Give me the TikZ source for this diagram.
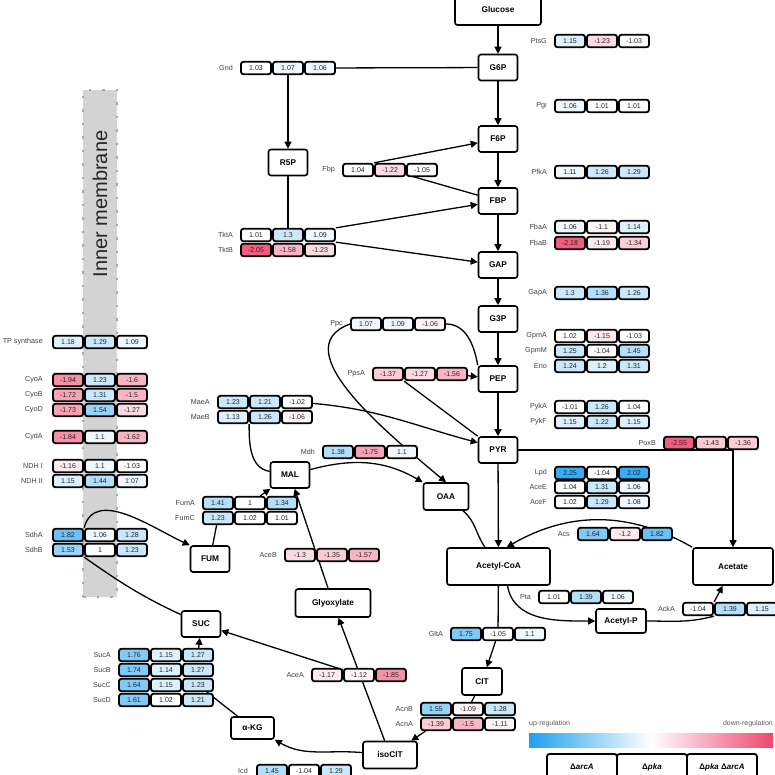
\documentclass[tikz,border=0pt]{standalone}
\usepackage[svgnames]{xcolor}
\usepackage{tikz}
\usepackage{fontspec}
\setmainfont{Liberation Sans}
\usetikzlibrary{arrows.meta}
\pgfdeclarelayer{backlayer}
\pgfdeclarelayer{edgelayer}
\pgfdeclarelayer{nodelayer}
\pgfsetlayers{backlayer,edgelayer,nodelayer,main}
\definecolor{UpBlue}{RGB}{30,160,240}
\definecolor{DownRed}{RGB}{240,70,110}
\tikzstyle{met}=[rectangle,rounded corners=2.5pt,fill=White,draw=Black,line width=1.6pt,minimum width=39pt,minimum height=26pt,inner sep=1pt,font=\fontsize{8.3}{9}\selectfont\bfseries]
\tikzstyle{enz}=[inner sep=0pt,anchor=east,text=black!75,font=\fontsize{7.2}{8}\selectfont]
\tikzstyle{n0}=[rectangle,rounded corners=2.5pt,fill=White,draw=Black,line width=1.8pt,minimum width=30pt,minimum height=12.5pt,inner sep=0pt,text=black!85,font=\fontsize{7}{8}\selectfont]
\tikzstyle{u1}=[n0,fill=UpBlue!7]
\tikzstyle{u2}=[n0,fill=UpBlue!15]
\tikzstyle{u3}=[n0,fill=UpBlue!24]
\tikzstyle{u4}=[n0,fill=UpBlue!34]
\tikzstyle{u5}=[n0,fill=UpBlue!46]
\tikzstyle{u6}=[n0,fill=UpBlue!56]
\tikzstyle{u7}=[n0,fill=UpBlue!66]
\tikzstyle{u8}=[n0,fill=UpBlue!88]
\tikzstyle{d1}=[n0,fill=DownRed!6]
\tikzstyle{d2}=[n0,fill=DownRed!12]
\tikzstyle{d3}=[n0,fill=DownRed!20]
\tikzstyle{d4}=[n0,fill=DownRed!28]
\tikzstyle{d5}=[n0,fill=DownRed!40]
\tikzstyle{d6}=[n0,fill=DownRed!50]
\tikzstyle{d7}=[n0,fill=DownRed!60]
\tikzstyle{d8}=[n0,fill=DownRed!88]
\tikzstyle{membrane}=[rectangle,fill=LightGray,draw=DarkGray,line width=2.5pt,dash pattern=on 2.5pt off 11pt,minimum width=34pt,minimum height=507pt,inner sep=0pt]
\tikzstyle{memtext}=[inner sep=0pt,rotate=90,text=black!85,font=\fontsize{20}{24}\selectfont]
\tikzstyle{legtext}=[inner sep=0pt,text=black!65,font=\fontsize{7}{8}\selectfont]
\tikzstyle{legbar}=[rectangle,left color=UpBlue,right color=DownRed,middle color=White,minimum width=244pt,minimum height=14pt,inner sep=0pt]
\tikzstyle{hdr}=[rectangle,rounded corners=2.5pt,fill=White,draw=Black,line width=1.8pt,minimum width=70pt,minimum height=26pt,inner sep=0pt,font=\fontsize{8}{9}\selectfont\bfseries]
\tikzstyle{link}=[-,draw=Black,line width=1.3pt]
\tikzstyle{flow}=[-{Triangle[length=7pt,width=7pt]},draw=Black,line width=1.3pt]

\begin{document}
\begin{tikzpicture}[x=1pt,y=-1pt]
	\useasboundingbox (0, 0) rectangle (775, 774);
	\begin{pgfonlayer}{backlayer}
		\node [style=membrane] (218) at (100, 343.5) {};
		\node [style=memtext] (219) at (100, 204) {Inner membrane};
	\end{pgfonlayer}
	\begin{pgfonlayer}{nodelayer}
		\node [style=met, minimum width=86pt, minimum height=30pt] (0) at (498, 10) {Glucose};
		\node [style=met] (1) at (498, 67.5) {G6P};
		\node [style=met] (2) at (498, 139) {F6P};
		\node [style=met] (3) at (288, 162.5) {R5P};
		\node [style=met] (4) at (498, 201) {FBP};
		\node [style=met] (5) at (498, 265) {GAP};
		\node [style=met] (6) at (498, 319) {G3P};
		\node [style=met] (7) at (498, 379) {PEP};
		\node [style=met] (8) at (498, 450) {PYR};
		\node [style=met] (9) at (290, 475) {MAL};
		\node [style=met, minimum width=45pt, minimum height=27pt] (10) at (446, 496.5) {OAA};
		\node [style=met] (11) at (210, 559) {FUM};
		\node [style=met, minimum width=103pt, minimum height=37pt] (12) at (498.5, 566.5) {Acetyl-CoA};
		\node [style=met, minimum width=80pt, minimum height=37pt] (13) at (733, 566.5) {Acetate};
		\node [style=met, minimum width=75pt, minimum height=28pt] (14) at (333, 603) {Glyoxylate};
		\node [style=met] (15) at (201, 624) {SUC};
		\node [style=met, minimum width=50pt, minimum height=24pt] (16) at (621, 621) {Acetyl-P};
		\node [style=met, minimum width=40pt, minimum height=27pt] (17) at (482, 681.5) {CIT};
		\node [style=met, minimum width=43pt, minimum height=22pt] (18) at (252.5, 728) {α-KG};
		\node [style=met, minimum width=54pt, minimum height=27pt] (19) at (390, 755) {isoCIT};
		\node [style=enz] (20) at (547, 41) {PtsG};
		\node [style=u2] (21) at (570, 41) {1.15};
		\node [style=d3] (22) at (602, 41) {-1.23};
		\node [style=n0] (23) at (634, 41) {-1.03};
		\node [style=enz] (24) at (233, 68) {Gnd};
		\node [style=n0] (25) at (256, 68) {1.03};
		\node [style=u1] (26) at (288, 68) {1.07};
		\node [style=u1] (27) at (320, 68) {1.06};
		\node [style=enz] (28) at (547, 106) {Pgi};
		\node [style=u1] (29) at (570, 106) {1.06};
		\node [style=n0] (30) at (602, 106) {1.01};
		\node [style=n0] (31) at (634, 106) {1.01};
		\node [style=enz] (32) at (335, 170) {Fbp};
		\node [style=n0] (33) at (358, 170) {1.04};
		\node [style=d3] (34) at (390, 170) {-1.22};
		\node [style=n0] (35) at (422, 170) {-1.05};
		\node [style=enz] (36) at (547, 172) {PfkA};
		\node [style=u1] (37) at (570, 172) {1.11};
		\node [style=u3] (38) at (602, 172) {1.26};
		\node [style=u3] (39) at (634, 172) {1.29};
		\node [style=enz] (40) at (547, 227) {FbaA};
		\node [style=u1] (41) at (570, 227) {1.06};
		\node [style=d1] (42) at (602, 227) {-1.1};
		\node [style=u2] (43) at (634, 227) {1.14};
		\node [style=enz] (44) at (547, 243) {FbaB};
		\node [style=d8] (45) at (570, 243) {-2.18};
		\node [style=d2] (46) at (602, 243) {-1.19};
		\node [style=d4] (47) at (634, 243) {-1.34};
		\node [style=enz] (48) at (233, 235) {TktA};
		\node [style=n0] (49) at (256, 235) {1.01};
		\node [style=u3] (50) at (288, 235) {1.3};
		\node [style=u1] (51) at (320, 235) {1.09};
		\node [style=enz] (52) at (233, 250) {TktB};
		\node [style=d8] (53) at (256, 250) {-2.05};
		\node [style=d5] (54) at (288, 250) {-1.58};
		\node [style=d3] (55) at (320, 250) {-1.23};
		\node [style=enz] (56) at (547, 293) {GapA};
		\node [style=u3] (57) at (570, 293) {1.3};
		\node [style=u4] (58) at (602, 293) {1.36};
		\node [style=u3] (59) at (634, 293) {1.26};
		\node [style=enz] (60) at (343, 324) {Ppc};
		\node [style=u1] (61) at (366, 324) {1.07};
		\node [style=u1] (62) at (398, 324) {1.09};
		\node [style=d1] (63) at (430, 324) {-1.06};
		\node [style=enz] (64) at (547, 336) {GpmA};
		\node [style=n0] (65) at (570, 336) {1.02};
		\node [style=d2] (66) at (602, 336) {-1.15};
		\node [style=n0] (67) at (634, 336) {-1.03};
		\node [style=enz] (68) at (547, 351) {GpmM};
		\node [style=u3] (69) at (570, 351) {1.25};
		\node [style=n0] (70) at (602, 351) {-1.04};
		\node [style=u4] (71) at (634, 351) {1.45};
		\node [style=enz] (72) at (547, 366) {Eno};
		\node [style=u3] (73) at (570, 366) {1.24};
		\node [style=u2] (74) at (602, 366) {1.2};
		\node [style=u3] (75) at (634, 366) {1.31};
		\node [style=enz] (76) at (43, 342) {TP synthase};
		\node [style=u2] (77) at (68, 342) {1.18};
		\node [style=u3] (78) at (100, 342) {1.29};
		\node [style=u1] (79) at (132, 342) {1.09};
		\node [style=enz] (80) at (365, 374) {PpsA};
		\node [style=d4] (81) at (388, 374) {-1.37};
		\node [style=d3] (82) at (420, 374) {-1.27};
		\node [style=d5] (83) at (452, 374) {-1.56};
		\node [style=enz] (84) at (43, 380) {CyoA};
		\node [style=d7] (85) at (68, 380) {-1.94};
		\node [style=u3] (86) at (100, 380) {1.23};
		\node [style=d5] (87) at (132, 380) {-1.6};
		\node [style=enz] (88) at (43, 395) {CyoB};
		\node [style=d6] (89) at (68, 395) {-1.72};
		\node [style=u3] (90) at (100, 395) {1.31};
		\node [style=d5] (91) at (132, 395) {-1.5};
		\node [style=enz] (92) at (43, 410) {CyoD};
		\node [style=d6] (93) at (68, 410) {-1.73};
		\node [style=u5] (94) at (100, 410) {1.54};
		\node [style=d3] (95) at (132, 410) {-1.27};
		\node [style=enz] (96) at (210, 402) {MaeA};
		\node [style=u3] (97) at (233, 402) {1.23};
		\node [style=u3] (98) at (265, 402) {1.21};
		\node [style=n0] (99) at (297, 402) {-1.02};
		\node [style=enz] (100) at (210, 417) {MaeB};
		\node [style=u2] (101) at (233, 417) {1.13};
		\node [style=u3] (102) at (265, 417) {1.26};
		\node [style=d1] (103) at (297, 417) {-1.06};
		\node [style=enz] (104) at (547, 407) {PykA};
		\node [style=n0] (105) at (570, 407) {-1.01};
		\node [style=u3] (106) at (602, 407) {1.26};
		\node [style=n0] (107) at (634, 407) {1.04};
		\node [style=enz] (108) at (547, 422) {PykF};
		\node [style=u2] (109) at (570, 422) {1.15};
		\node [style=u3] (110) at (602, 422) {1.22};
		\node [style=u2] (111) at (634, 422) {1.15};
		\node [style=enz] (112) at (43, 437) {CydA};
		\node [style=d7] (113) at (68, 437) {-1.84};
		\node [style=u1] (114) at (100, 437) {1.1};
		\node [style=d5] (115) at (132, 437) {-1.62};
		\node [style=enz] (116) at (656, 443) {PoxB};
		\node [style=d8] (117) at (679, 443) {-2.55};
		\node [style=d4] (118) at (711, 443) {-1.43};
		\node [style=d4] (119) at (743, 443) {-1.36};
		\node [style=enz] (120) at (315, 452) {Mdh};
		\node [style=u4] (121) at (338, 452) {1.38};
		\node [style=d6] (122) at (370, 452) {-1.75};
		\node [style=u1] (123) at (402, 452) {1.1};
		\node [style=enz] (124) at (43, 466) {NDH I};
		\node [style=d2] (125) at (68, 466) {-1.16};
		\node [style=u1] (126) at (100, 466) {1.1};
		\node [style=n0] (127) at (132, 466) {-1.03};
		\node [style=enz] (128) at (43, 481) {NDH II};
		\node [style=u2] (129) at (68, 481) {1.15};
		\node [style=u4] (130) at (100, 481) {1.44};
		\node [style=u1] (131) at (132, 481) {1.07};
		\node [style=enz] (132) at (547, 473) {Lpd};
		\node [style=u8] (133) at (570, 473) {2.25};
		\node [style=n0] (134) at (602, 473) {-1.04};
		\node [style=u8] (135) at (634, 473) {2.02};
		\node [style=enz] (136) at (547, 487) {AceE};
		\node [style=n0] (137) at (570, 487) {1.04};
		\node [style=u3] (138) at (602, 487) {1.31};
		\node [style=u1] (139) at (634, 487) {1.06};
		\node [style=enz] (140) at (547, 502) {AceF};
		\node [style=n0] (141) at (570, 502) {1.02};
		\node [style=u3] (142) at (602, 502) {1.29};
		\node [style=u1] (143) at (634, 502) {1.08};
		\node [style=enz] (144) at (195, 503) {FumA};
		\node [style=u4] (145) at (218, 503) {1.41};
		\node [style=n0] (146) at (250, 503) {1};
		\node [style=u4] (147) at (282, 503) {1.34};
		\node [style=enz] (148) at (195, 518) {FumC};
		\node [style=u3] (149) at (218, 518) {1.23};
		\node [style=n0] (150) at (250, 518) {1.02};
		\node [style=n0] (151) at (282, 518) {1.01};
		\node [style=enz] (152) at (570, 534) {Acs};
		\node [style=u6] (153) at (593, 534) {1.64};
		\node [style=d2] (154) at (625, 534) {-1.2};
		\node [style=u7] (155) at (657, 534) {1.82};
		\node [style=enz] (156) at (43, 535) {SdhA};
		\node [style=u7] (157) at (68, 535) {1.82};
		\node [style=u1] (158) at (100, 535) {1.06};
		\node [style=u3] (159) at (132, 535) {1.28};
		\node [style=enz] (160) at (43, 550) {SdhB};
		\node [style=u5] (161) at (68, 550) {1.53};
		\node [style=n0] (162) at (100, 550) {1};
		\node [style=u3] (163) at (132, 550) {1.23};
		\node [style=enz] (164) at (277, 555) {AceB};
		\node [style=d3] (165) at (300, 555) {-1.3};
		\node [style=d4] (166) at (332, 555) {-1.35};
		\node [style=d5] (167) at (364, 555) {-1.57};
		\node [style=enz] (168) at (531, 597) {Pta};
		\node [style=n0] (169) at (554, 597) {1.01};
		\node [style=u4] (170) at (586, 597) {1.39};
		\node [style=u1] (171) at (618, 597) {1.06};
		\node [style=enz] (172) at (675, 609) {AckA};
		\node [style=n0] (173) at (698, 609) {-1.04};
		\node [style=u4] (174) at (730, 609) {1.39};
		\node [style=u2] (175) at (762, 609) {1.15};
		\node [style=enz] (176) at (443, 634) {GltA};
		\node [style=u6] (177) at (466, 634) {1.75};
		\node [style=n0] (178) at (498, 634) {-1.05};
		\node [style=u1] (179) at (530, 634) {1.1};
		\node [style=enz] (180) at (111, 655) {SucA};
		\node [style=u6] (181) at (134, 655) {1.76};
		\node [style=u2] (182) at (166, 655) {1.15};
		\node [style=u3] (183) at (198, 655) {1.27};
		\node [style=enz] (184) at (111, 670) {SucB};
		\node [style=u6] (185) at (134, 670) {1.74};
		\node [style=u2] (186) at (166, 670) {1.14};
		\node [style=u3] (187) at (198, 670) {1.27};
		\node [style=enz] (188) at (111, 685) {SucC};
		\node [style=u6] (189) at (134, 685) {1.64};
		\node [style=u2] (190) at (166, 685) {1.15};
		\node [style=u3] (191) at (198, 685) {1.23};
		\node [style=enz] (192) at (111, 700) {SucD};
		\node [style=u6] (193) at (134, 700) {1.61};
		\node [style=n0] (194) at (166, 700) {1.02};
		\node [style=u3] (195) at (198, 700) {1.21};
		\node [style=enz] (196) at (304, 675) {AceA};
		\node [style=d2] (197) at (327, 675) {-1.17};
		\node [style=d1] (198) at (359, 675) {-1.12};
		\node [style=d7] (199) at (391, 675) {-1.85};
		\node [style=enz] (200) at (413, 709) {AcnB};
		\node [style=u5] (201) at (436, 709) {1.55};
		\node [style=d1] (202) at (468, 709) {-1.09};
		\node [style=u3] (203) at (500, 709) {1.28};
		\node [style=enz] (204) at (413, 724) {AcnA};
		\node [style=d4] (205) at (436, 724) {-1.39};
		\node [style=d5] (206) at (468, 724) {-1.5};
		\node [style=d1] (207) at (500, 724) {-1.11};
		\node [style=enz] (208) at (248, 771) {Icd};
		\node [style=u4] (209) at (272, 771) {1.45};
		\node [style=n0] (210) at (304, 771) {-1.04};
		\node [style=u3] (211) at (336, 771) {1.29};
		\node [style=legtext, anchor=west] (212) at (529, 724) {up-regulation};
		\node [style=legtext, anchor=east] (213) at (773, 724) {down-regulation};
		\node [style=legbar] (214) at (651, 740) {};
		\node [style=hdr] (215) at (582, 767) {Δ\textit{arcA}};
		\node [style=hdr] (216) at (652, 767) {Δ\textit{pka}};
		\node [style=hdr] (217) at (722, 767) {Δ\textit{pka} Δ\textit{arcA}};
	\end{pgfonlayer}
	\begin{pgfonlayer}{edgelayer}
		\draw [style=flow] (0) to (1);
		\draw [style=flow] (1) to (2);
		\draw [style=flow] (2) to (4);
		\draw [style=flow] (4) to (5);
		\draw [style=flow] (5) to (6);
		\draw [style=flow] (6) to (7);
		\draw [style=flow] (7) to (8);
		\draw [style=flow] (8) to (12);
		\draw [style=link] (1) to (27);
		\draw [style=flow] (26) to (3);
		\draw [style=link] (3) to (50);
		\draw [style=flow] (51.north east) to (4);
		\draw [style=flow] (51.south east) to (5);
		\draw [style=link] (4) to (34);
		\draw [style=flow] (33.north east) to (2);
		\draw [style=link, out=0, in=100] (63) to (7.north west);
		\draw [style=flow, out=200, in=140] (61.west) to (10.north);
		\draw [style=link] (8.north west) to (82.south west);
		\draw [style=flow] (83) to (7);
		\draw [style=link, out=170, in=-90] (9) to (102.south west);
		\draw [style=flow, out=-5, in=165] (99) to (8.160);
		\draw [style=flow, out=15, in=150] (9) to (10.north west);
		\draw [style=link] (11) to (149);
		\draw [style=flow] (146) to (9);
		\draw [style=flow] (14) to (9);
		\draw [style=flow] (19) to (14);
		\draw [style=flow] (198) to (15);
		\draw [style=flow, out=175, in=-30] (19) to (18.south east);
		\draw [style=link] (18) to (191);
		\draw [style=flow] (183) to (15);
		\draw [style=link, out=155, in=-35] (15) to (162.south west);
		\draw [style=flow, out=75, in=155] (158.north west) to (11.north west);
		\draw [style=link, out=-40, in=125] (10) to (12);
		\draw [style=link] (12) to (178);
		\draw [style=flow] (178) to (17);
		\draw [style=link] (17) to (202);
		\draw [style=flow] (205) to (19);
		\draw [style=flow, out=150, in=30] (13.north west) to (12.67);
		\draw [style=flow] (8) -| (13);
		\draw [style=flow, out=-80, in=180] (12.-65) to (16.west);
		\draw [style=link, out=0, in=195] (16) to (173.south east);
		\draw [style=flow] (174.north west) to (13);
	\end{pgfonlayer}
\end{tikzpicture}
\end{document}
